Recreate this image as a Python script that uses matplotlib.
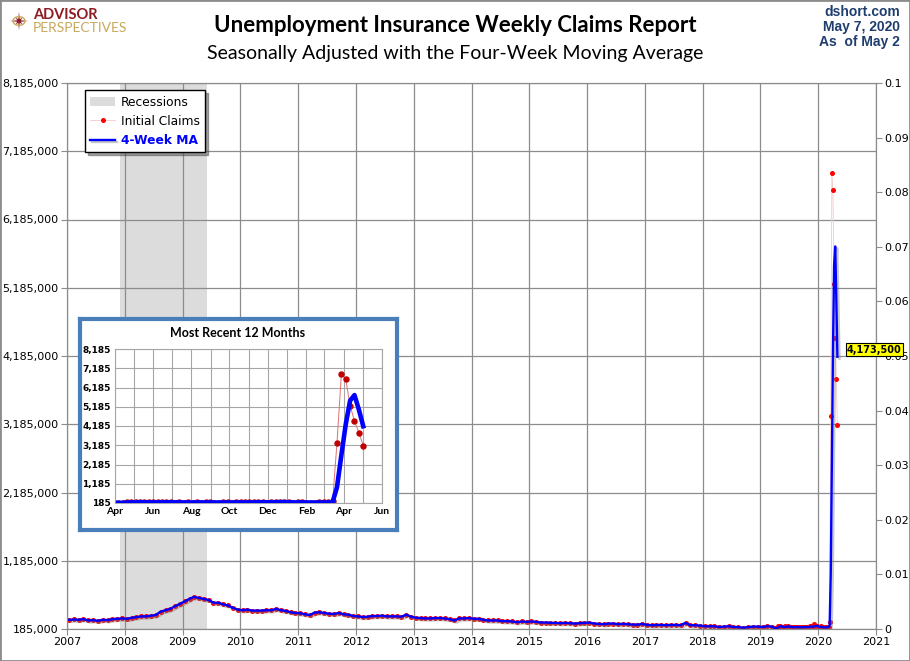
import numpy as np
import pandas as pd
import matplotlib
matplotlib.use("Agg")
import matplotlib.pyplot as plt
import matplotlib.dates as mdates
import matplotlib.patheffects as pe
from matplotlib.patches import Rectangle, Polygon, Circle

# ---- data (thousands of claims, SA) ----
# monthly level, Jan 2007 .. Mar 2019
hist_claims = [
    320, 325, 320, 330, 310, 315, 305, 320, 315, 330, 335, 340,   # 2007
    335, 350, 360, 370, 370, 380, 390, 440, 460, 480, 520, 555,   # 2008
    590, 630, 655, 640, 625, 610, 570, 570, 545, 530, 495, 470,   # 2009
    460, 470, 455, 455, 455, 460, 460, 480, 460, 450, 430, 420,   # 2010
    415, 400, 390, 425, 430, 420, 410, 405, 420, 400, 395, 375,   # 2011
    370, 360, 365, 375, 375, 380, 370, 370, 370, 365, 395, 365,   # 2012
    350, 345, 340, 340, 345, 345, 340, 330, 310, 340, 340, 345,   # 2013
    335, 335, 320, 310, 310, 310, 300, 300, 295, 285, 295, 290,   # 2014
    295, 290, 280, 280, 275, 275, 270, 275, 270, 265, 270, 275,   # 2015
    280, 265, 260, 255, 265, 265, 255, 262, 255, 250, 248, 260,   # 2016
    245, 240, 245, 245, 240, 245, 245, 240, 275, 240, 240, 235,   # 2017
    225, 225, 225, 215, 220, 225, 215, 212, 205, 212, 220, 220,   # 2018
    215, 225, 220,                                                # 2019 Q1
]
hist_start = "2007-01-01"

# weekly, week ending Apr 6 2019 .. May 2 2020
weekly_claims = [
    196, 193, 230, 230, 228, 212, 211, 215, 218, 222, 216, 227, 221,
    209, 216, 206, 215, 209, 220, 209, 215, 217, 204, 208, 213, 219,
    210, 214, 212, 218, 211, 225, 227, 213, 203, 252, 234, 222, 222,
    214, 204, 223, 216, 202, 205, 210, 219, 216, 211, 282, 3307, 6867,
    6615, 5237, 4442, 3846, 3169,
]
weekly_start = "2019-04-06"

recession = ("2007-12-01", "2009-06-01")

y_ticks = [185 + 1000 * i for i in range(9)]
y_tick_labels = [f"{v * 1000:,}" for v in y_ticks]
inset_tick_labels = [f"{v:,}" for v in y_ticks]
right_ticks = [i / 100 for i in range(11)]
right_labels = ["0"] + [f"{v:g}" for v in right_ticks[1:]]
year_ticks = list(range(2007, 2022))
inset_month_labels = ["Apr", "Jun", "Aug", "Oct", "Dec", "Feb", "Apr", "Jun"]

hist_dates = pd.date_range(hist_start, periods=len(hist_claims), freq="MS") + pd.Timedelta(days=14)
wk = pd.Series(weekly_claims, index=pd.date_range(weekly_start, periods=len(weekly_claims), freq="W-SAT"))
wk_ma = wk.rolling(4, min_periods=1).mean()

dates = list(hist_dates) + list(wk.index)
claims = hist_claims + list(wk.values)
ma = hist_claims + list(wk_ma.values)

W, H = 910, 661
fig = plt.figure(figsize=(W / 100, H / 100), dpi=100)


def fx(px):
    return px / W


def fy(py):
    return 1 - py / H


RED = "#FF0000"
BLUE = "#0000FF"
GRID = "#8C8C8C"
shadow = [pe.SimpleLineShadow(offset=(1.5, -1.5), shadow_color="#777777", alpha=0.4), pe.Normal()]

# ---- main chart ----
ax = fig.add_axes([fx(67), fy(629), fx(876 - 67), fy(83) - fy(629)])
ax.axvspan(pd.Timestamp(recession[0]), pd.Timestamp(recession[1]), color="#DCDCDC", lw=0,
           label="Recessions", zorder=0)
ax.plot(dates, claims, color="#F6C8C8", lw=0.6, marker="o", ms=2.6, mfc=RED, mec=RED,
        label="Initial Claims", zorder=2)
ax.plot(dates, ma, color=BLUE, lw=1.7, label="4-Week MA", zorder=3, path_effects=shadow)

ax.set_xlim(pd.Timestamp("2007-01-01"), pd.Timestamp("2021-01-01"))
ax.set_ylim(185, 8185)
ax.set_yticks(y_ticks)
ax.set_yticklabels(y_tick_labels, fontsize=8)
ax.set_xticks([pd.Timestamp(f"{y}-01-01") for y in year_ticks])
ax.set_xticklabels([str(y) for y in year_ticks], fontsize=8)
ax.grid(True, color=GRID, lw=0.9)
ax.set_axisbelow(True)
ax.tick_params(length=4, color=GRID, pad=2)
for s in ax.spines.values():
    s.set_color(GRID)

ax2 = ax.twinx()
ax2.set_ylim(0, 0.1)
ax2.set_yticks(right_ticks)
ax2.set_yticklabels(right_labels, fontsize=8)
ax2.tick_params(length=4, color=GRID, pad=2)
for s in ax2.spines.values():
    s.set_color(GRID)

# value label, drawn on the twin so it sits over the right tick labels
ax2.annotate(f"{wk_ma.iloc[-1] * 1000:,.0f}", xy=(mdates.date2num(wk_ma.index[-1]), wk_ma.iloc[-1]),
             xycoords=ax.transData, xytext=(7, 5), textcoords="offset points", fontsize=7,
             fontweight="bold", va="center", ha="left",
             bbox=dict(boxstyle="square,pad=0.15", fc="#FFFF00", ec="black", lw=0.8),
             annotation_clip=False, zorder=6)

leg = ax.legend(loc="upper left", bbox_to_anchor=(0.022, 0.987), fontsize=8.8, frameon=True,
                fancybox=False, shadow=True, handlelength=2.0, borderpad=0.45, labelspacing=0.5,
                borderaxespad=0, handletextpad=0.5)
leg.get_frame().set_edgecolor("black")
leg.get_frame().set_linewidth(1)
leg.get_texts()[2].set_color(BLUE)
leg.get_texts()[2].set_fontweight("bold")
leg.set_zorder(10)

# ---- inset: most recent 12 months ----
frame = fig.add_axes([fx(80), fy(530), fx(397 - 80), fy(319) - fy(530)])
frame.set_xticks([]); frame.set_yticks([])
frame.set_facecolor("white")
for s in frame.spines.values():
    s.set_color("#4A7EBB")
    s.set_linewidth(3)
fig.text(fx(238), fy(333), "Most Recent 12 Months", ha="center", va="center",
         fontsize=9, fontweight="bold", family="Lato")

ins = fig.add_axes([fx(115), fy(503), fx(382 - 115), fy(349) - fy(503)])
ins.plot(wk.index, wk.values, color="#E07070", lw=0.7, marker="o", ms=3.6,
         mfc="#C00000", mec="#C00000", zorder=2)
ins.plot(wk_ma.index, wk_ma.values, color=BLUE, lw=3.3, zorder=3)
ins.set_xlim(pd.Timestamp("2019-04-01"), pd.Timestamp("2020-06-01"))
ins.set_ylim(185, 8185)
ins.set_yticks(y_ticks)
ins.set_yticklabels(inset_tick_labels, fontsize=6.5, fontweight="bold")
ins.xaxis.set_minor_locator(mdates.MonthLocator())
ins.set_xticks(pd.date_range("2019-04-01", "2020-06-01", freq="2MS"))
ins.set_xticklabels(inset_month_labels, fontsize=7.5, fontweight="bold", family="Lato")
ins.grid(True, which="both", color="#A6A6A6", lw=0.8)
ins.set_axisbelow(True)
ins.tick_params(which="both", length=0, pad=3)
for s in ins.spines.values():
    s.set_color("#A6A6A6")

# ---- header ----
fig.text(0.5, fy(25), "Unemployment Insurance Weekly Claims Report", ha="center", va="center",
         fontsize=16, fontweight="bold", family="Lato")
fig.text(0.5, fy(53), "Seasonally Adjusted with the Four-Week Moving Average", ha="center",
         va="center", fontsize=14, family="Lato")
for txt, yy in [("dshort.com", 12), ("May 7, 2020", 27), ("As  of May 2", 42)]:
    fig.text(fx(900), fy(yy), txt, ha="right", va="center", fontsize=10, fontweight="bold",
             color="#1F3E6E", family="Liberation Sans")

# logo
cx, cy, r = 19, 21, 9
star = []
for k in range(16):
    rr = r if k % 4 == 0 else (r * 0.55 if k % 2 == 0 else r * 0.22)
    a = np.pi / 2 - k * np.pi / 8
    star.append((fx(cx + rr * np.cos(a)), fy(cy - rr * np.sin(a))))
fig.patches.append(Polygon(star, closed=True, transform=fig.transFigure, fc="#8C1C24", ec="none"))
fig.patches.append(Circle((fx(cx), fy(cy)), fx(6), transform=fig.transFigure, fill=False,
                          ec="#C9A85C", lw=1))
fig.text(fx(33), fy(15), "ADVISOR", ha="left", va="center", fontsize=10.5, fontweight="bold",
         color="#8C1C24", family="Lato")
fig.text(fx(33), fy(28), "PERSPECTIVES", ha="left", va="center", fontsize=10,
         color="#C9A85C", family="Lato")

fig.patches.append(Rectangle((0, 0), 1, 1, transform=fig.transFigure, fill=False,
                             ec="#8C8C8C", lw=2))

fig.savefig("out.png", dpi=100)
